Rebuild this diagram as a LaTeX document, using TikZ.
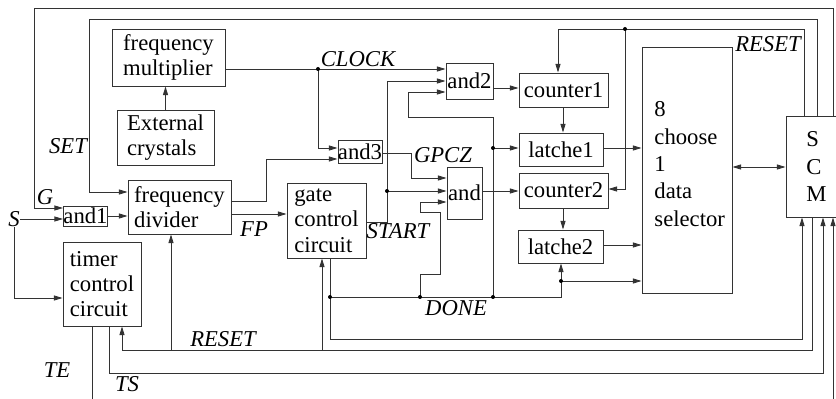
\documentclass[tikz,border=0pt]{standalone}
\usepackage{fontspec}
\setmainfont{Liberation Serif}
\usetikzlibrary{arrows.meta,calc}
\begin{document}
\begin{tikzpicture}[x=0.75pt,y=-0.75pt,
  line width=0.7pt, draw=black!80,
  bx/.style 2 args={draw=black!80, minimum width=#1*0.75pt, minimum height=#2*0.75pt, inner sep=0pt, align=left, font=\fontsize{17}{19}\selectfont},
  lbl/.style={font=\fontsize{17}{19}\selectfont\itshape, inner sep=0pt},
  txt/.style={font=\fontsize{17}{20.5}\selectfont, inner sep=0pt, align=left},
  arr/.style={-{Triangle[length=6.5pt,width=3.8pt]}},
  darr/.style={{Triangle[length=6.5pt,width=3.8pt]}-{Triangle[length=6.5pt,width=3.8pt]}}
]
\useasboundingbox (0,0) rectangle (836,399);

% boxes
\node[bx={113}{57}] (fm) at (168.5,57.5) {frequency\\multiplier};
\node[bx={97}{55}] (ec) at (165.5,137.5) {External\\crystals};
\node[bx={103}{54}] (fd) at (179.5,207) {frequency\\divider};
\node[bx={43}{20}] (and1) at (85.5,216) {and1};
\node[bx={78}{84}] (tc) at (102,284) {timer\\control\\circuit};
\node[bx={79}{75}] (gc) at (326.5,220.5) {gate\\control\\circuit};
\node[bx={44}{23}] (and3) at (360,151.5) {and3};
\node[bx={47}{36}] (and2) at (469.5,81) {and2};
\node[bx={35}{52}] (andb) at (464.5,193) {and};
\node[bx={89}{34}] (c1) at (563.5,90) {counter1};
\node[bx={84}{33}] (l1) at (561,149.5) {latche1};
\node[bx={89}{35}] (c2) at (563.5,190.5) {counter2};
\node[bx={85}{33}] (l2) at (560.5,246.5) {latche2};
\node[bx={90}{246}] (ds) at (687,170) {};
\node[txt, anchor=west] (dstxt) at (654,164) {8\\choose\\1\\data\\selector};
\node[bx={50.5}{101}] (scm) at (811.25,166.5) {};
\node[txt, anchor=west] (scmtxt) at (806,166.5) {S\\C\\M};

% labels
\node[lbl] (clockl) at (358,59) {CLOCK};
\node[lbl] (gpczl) at (443,155) {GPCZ};
\node[lbl] (startl) at (398,231) {START};
\node[lbl] (donel) at (456,308) {DONE};
\node[lbl] (resett) at (768,44) {RESET};
\node[lbl] (setl) at (68,146) {SET};
\node[lbl] (gl) at (45,197) {G};
\node[lbl] (S) at (14,219) {S};
\node[lbl] (fpl) at (254,229) {FP};
\node[lbl] (resetb) at (223,339) {RESET};
\node[lbl] (tel) at (57,370) {TE};
\node[lbl] (tsl) at (127,384) {TS};

% junction coordinates
\coordinate (clk) at (318,69);
\coordinate (st) at (387,191);
\coordinate (d0) at (330,297);
\coordinate (d1) at (420,297);
\coordinate (d2) at (493,297);
\coordinate (d3) at (561,297);
\coordinate (l1in) at (493,148);
\coordinate (dsl) at (561,281);
\coordinate (rs) at (625,29);

% connectors
\draw[arr] (ec.north) -- (ec.north |- fm.south);
\draw[arr] (fm.east |- clk) -- (and2.west |- clk);
\draw[arr] (clk) |- (and3.west |- 0,148);
\draw[arr] (fd.east |- 0,201) -- (266,201) |- (and3.west |- 0,159);
\draw[arr] (fd.east |- 0,214) -- (gc.west |- 0,214);
\draw[arr] (and1.east) -- (and1.east -| fd.west);
\draw[arr] (scm.north -| 833,0) -- (833,8) -- (34,8) |- (and1.west |- 0,208);
\draw[arr] (scm.north -| 817,0) -- (817,19) -- (89,19) |- (fd.west |- 0,192);
\draw[arr] (scm.north -| 804,0) -- (804,29) -| (c1.north -| 558,0);
\draw[arr] (rs) |- (c2.east |- 0,189);
\draw[arr] (S.east) -- (and1.west |- S.east);
\draw[arr] (S.south) |- (tc.west |- 0,298);
\draw[arr] (gc.east |- 0,222) -| (387,81) -- (and2.west |- 0,81);
\draw[arr] (st) -- (andb.west |- st);
\draw[arr] (and3.east |- 0,153) -| (411,178) -- (andb.west |- 0,178);
\draw[arr] (and2.east |- 0,88) -- (c1.west |- 0,88);
\draw[arr] (andb.east |- st) -- (c2.west |- st);
\draw[arr] (c1.south -| 563,0) -- (l1.north -| 563,0);
\draw[arr] (c2.south -| 563,0) -- (l2.north -| 563,0);
\draw[arr] (l1.east |- 0,148) -- (ds.west |- 0,148);
\draw[arr] (l2.east |- 0,245) -- (ds.west |- 0,245);
\draw[arr] (dsl) -- (ds.west |- dsl);
\draw[arr] (gc.south -| 330,0) -- (330,339) -| (scm.south -| 802,0);
\draw[arr] (d0) -- (d3) -- (l2.south -| d3);
\draw[arr] (d1) -- (420,274) -- (440,274) -- (440,212) -- (420,212) -- (420,202) -- (andb.west |- 0,202);
\draw[arr] (d2) -- (493,117) -- (408,117) |- (and2.west |- 0,92);
\draw[arr] (l1in) -- (l1.west |- l1in);
\draw[arr] (scm.south -| 812,0) -- (812,350) -| (tc.south -| 122,0);
\draw[arr] (171,350) -- (fd.south -| 171,0);
\draw[arr] (322,350) -- (gc.south -| 322,0);
\draw[arr] (tc.south -| 109,0) -- (109,373) -| (scm.south -| 823,0);
\draw (tc.south -| 92,0) -- (92,399);
\draw[arr] (833,399) -- (scm.south -| 833,0);
\draw[darr] (ds.east |- 0,167) -- (scm.west |- 0,167);

% junction dots
\foreach \p in {clk,st,d0,d1,d2,l1in,dsl,rs}
  \fill[black] (\p) circle (2);
\end{tikzpicture}
\end{document}
